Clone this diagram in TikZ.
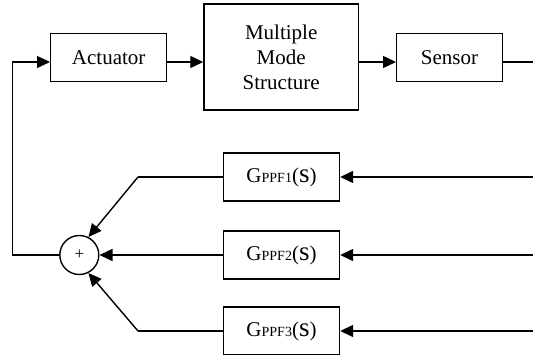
\documentclass[tikz,border=0pt]{standalone}
\usepackage{fontspec}
\setmainfont{Liberation Serif}
\newfontfamily\tms{Liberation Serif}
\usetikzlibrary{arrows.meta}
\newcommand\gsubtxt[1]{{\fontsize{14}{14}\selectfont #1}}
\newcommand\gsvar{{\fontsize{27}{27}\selectfont s}}
\begin{document}
\begin{tikzpicture}[x=1pt,y=-1pt,
  blk/.style={draw,line width=1.4pt,minimum width=116pt,minimum height=48pt,inner sep=0pt,font=\tms\fontsize{21}{25}\selectfont},
  con/.style={line width=1.4pt,-{Triangle[length=13pt,width=12pt]}},
  ln/.style={line width=1.4pt},
  sumnode/.style={draw,circle,minimum size=39pt,inner sep=0pt,line width=1.4pt,font=\tms\fontsize{17}{17}\selectfont}]
\useasboundingbox (0,0) rectangle (533,355);
\node[blk] (act) at (108.7,57.3) {Actuator};
\node[blk,minimum width=154.5pt,minimum height=106pt,align=center] (mms) at (281.2,57) {Multiple\\Mode\\Structure};
\node[blk,minimum width=105.6pt] (sen) at (449.5,57.3) {Sensor};
\node[blk] (g1) at (281.5,177) {G\gsubtxt{PPF1}(\gsvar)};
\node[blk] (g2) at (281.5,255) {G\gsubtxt{PPF2}(\gsvar)};
\node[blk] (g3) at (281.5,331) {G\gsubtxt{PPF3}(\gsvar)};
\node[sumnode] (sum) at (79.3,255) {+};
\coordinate (fb) at (12.7,62);
\coordinate (r0) at (533,62);
\coordinate (r1) at (533,177);
\coordinate (r2) at (533,255);
\coordinate (r3) at (533,331);
\coordinate (c1) at (138,177);
\coordinate (c3) at (138,331);
\draw[con] ([yshift=-4.7pt]act.east) -- ([yshift=-5pt]mms.west);
\draw[con] ([yshift=-5pt]mms.east) -- ([yshift=-4.7pt]sen.west);
\draw[ln] ([yshift=-4.7pt]sen.east) -- (r0);
\draw[con] (sum.west) -| (fb) -- ([yshift=-4.7pt]act.west);
\draw[con] (r1) -- (g1.east);
\draw[con] (r2) -- (g2.east);
\draw[con] (r3) -- (g3.east);
\draw[ln] (g1.west) -- (c1);
\draw[con] (c1) -- (sum.63);
\draw[con] (g2.west) -- (sum.east);
\draw[ln] (g3.west) -- (c3);
\draw[con] (c3) -- (sum.-63);
\end{tikzpicture}
\end{document}
